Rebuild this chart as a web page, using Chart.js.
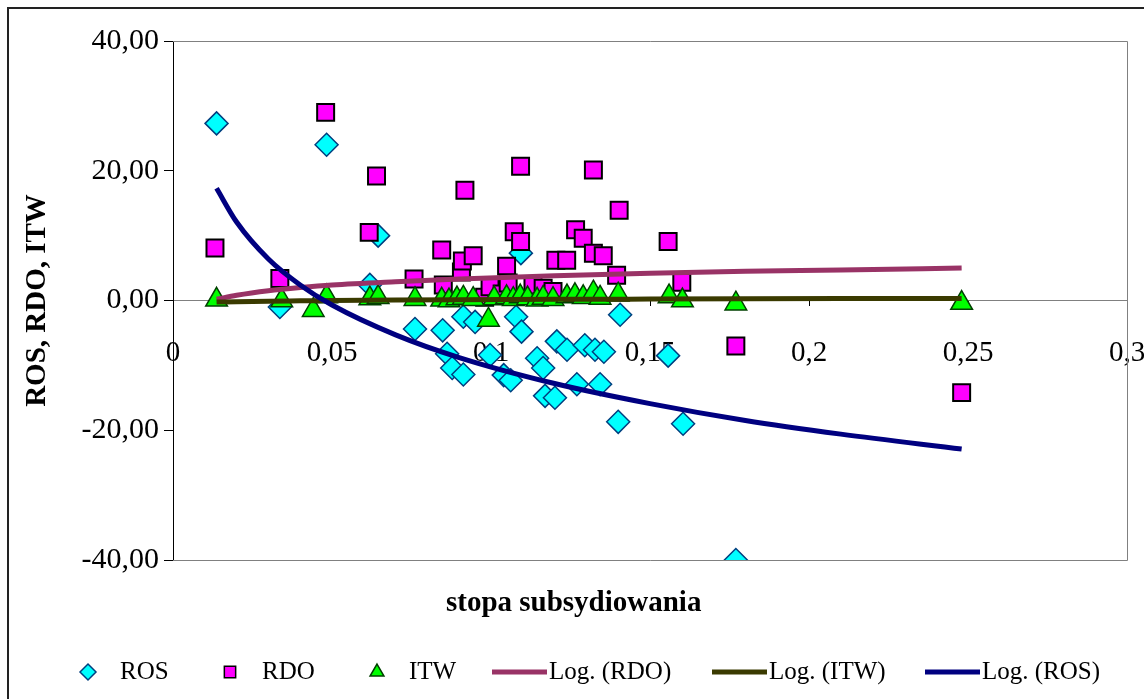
<!DOCTYPE html>
<html>
<head>
<meta charset="utf-8">
<script src="https://cdn.jsdelivr.net/npm/chart.js@4.4.0/dist/chart.umd.min.js"></script>
<style>
  html, body { margin: 0; padding: 0; background: #fff; }
  #wrap { width: 1144px; height: 699px; }
</style>
</head>
<body>
<div id="wrap"><canvas id="chart" width="1144" height="699"></canvas></div>
<script>
// tick values and labels
const xTicks = [0, 0.05, 0.1, 0.15, 0.2, 0.25, 0.3];
const xTickLabels = ['0', '0,05', '0,1', '0,15', '0,2', '0,25', '0,3'];
const yTicks = [-40, -20, 0, 20, 40];
const yTickLabels = ['-40,00', '-20,00', '0,00', '20,00', '40,00'];

// ROS points
const rosX = [0.0137, 0.0336, 0.0483, 0.0619, 0.0645, 0.0761, 0.0848, 0.0862, 0.0878, 0.0913,
              0.0913, 0.0950, 0.0997, 0.1040, 0.1062, 0.1079, 0.1094, 0.1096, 0.1145, 0.1164,
              0.1170, 0.1201, 0.1207, 0.1239, 0.1270, 0.1295, 0.1327, 0.1343, 0.1355, 0.1400,
              0.1406, 0.1557, 0.1604, 0.1770];
const rosY = [27.3, -1.0, 24.0, 2.4, 10.0, -4.4, -4.6, -8.2, -10.4, -11.4,
              -2.5, -3.3, -8.4, -11.5, -12.3, -2.5, 7.3, -4.8, -8.9, -10.4,
              -14.7, -15.0, -6.3, -7.6, -12.9, -6.9, -7.6, -12.9, -7.9, -18.7,
              -2.2, -8.5, -19.0, -40.0];

// RDO points
const rdoX = [0.0132, 0.0336, 0.0480, 0.0617, 0.0640, 0.0758, 0.0845, 0.0850, 0.0907, 0.0910,
              0.0918, 0.0944, 0.0980, 0.0997, 0.1035, 0.1049, 0.1054, 0.1073, 0.1093, 0.1093,
              0.1132, 0.1164, 0.1195, 0.1204, 0.1238, 0.1266, 0.1290, 0.1322, 0.1322, 0.1353,
              0.1395, 0.1403, 0.1557, 0.1600, 0.1770, 0.2480];
const rdoY = [8.1, 3.4, 29.0, 10.5, 19.2, 3.3, 7.8, 2.4, 4.4, 6.1,
              17.0, 6.9, 0.5, 2.1, 1.0, 5.3, 2.7, 10.6, 20.7, 9.1,
              2.4, 1.9, 1.4, 6.2, 6.2, 10.9, 9.6, 20.1, 7.3, 6.9,
              3.9, 13.9, 9.1, 2.8, -7.0, -14.2];

// ITW points
const itwX = [0.0137, 0.0342, 0.0441, 0.0483, 0.0619, 0.0645, 0.0761, 0.0845, 0.0868, 0.0893,
              0.0913, 0.0944, 0.0992, 0.1010, 0.1049, 0.1070, 0.1092, 0.1115, 0.1145, 0.1164,
              0.1195, 0.1239, 0.1264, 0.1290, 0.1322, 0.1343, 0.1400, 0.1560, 0.1602, 0.1770,
              0.2480];
const itwY = [0.1, 0.0, -1.5, 0.6, 0.3, 0.5, 0.2, 0.1, 0.0, 0.3,
              0.4, 0.2, -3.0, 0.3, 0.5, 0.2, 0.6, 0.3, 0.1, 0.4,
              0.2, 0.6, 0.8, 0.5, 1.2, 0.4, 0.9, 0.6, 0.0, -0.5,
              -0.4];

// log trendlines
const trendX = [0.0137, 0.02, 0.03, 0.04, 0.05, 0.07, 0.09, 0.12, 0.15, 0.18, 0.21, 0.248];
const logRos = [17.3, 12.1, 6.4, 2.4, -0.7, -5.3, -8.8, -12.8, -15.9, -18.5, -20.6, -22.9];
const logRdo = [0.2, 0.8, 1.5, 2.0, 2.4, 2.9, 3.3, 3.8, 4.2, 4.5, 4.7, 5.0];
const logItw = [-0.25, -0.18, -0.1, -0.05, 0.0, 0.07, 0.12, 0.18, 0.22, 0.26, 0.29, 0.32];

const pts = (xs, ys) => xs.map((x, i) => ({ x: x, y: ys[i] }));
const serif = 'Liberation Serif, Times New Roman, serif';

function markerSet(label, xs, ys, style, fill, stroke, radius, bw, order) {
    return {
        label: label,
        data: pts(xs, ys),
        pointStyle: style,
        pointRadius: radius,
        pointHoverRadius: radius,
        pointBackgroundColor: fill,
        pointBorderColor: stroke,
        pointBorderWidth: bw,
        backgroundColor: fill,
        borderColor: stroke,
        showLine: false,
        order: order
    };
}

function trendSet(label, ys, color, order) {
    return {
        label: label,
        data: pts(trendX, ys),
        showLine: true,
        borderColor: color,
        backgroundColor: color,
        borderWidth: 5,
        pointRadius: 0,
        cubicInterpolationMode: 'monotone',
        fill: false,
        order: order
    };
}

// frame of the whole picture and of the plot area
const framePlugin = {
    id: 'frame',
    beforeDraw(chart) {
        const c = chart.ctx;
        c.save();
        c.fillStyle = '#fff';
        c.fillRect(0, 0, chart.width, chart.height);
        c.strokeStyle = '#222';
        c.lineWidth = 2;
        c.strokeRect(8, 8, chart.width + 40, chart.height + 40);
        c.restore();
    },
    beforeDatasetsDraw(chart) {
        const a = chart.chartArea;
        const c = chart.ctx;
        c.save();
        c.strokeStyle = '#808080';
        c.lineWidth = 1;
        c.beginPath();
        c.moveTo(a.left, a.top + 0.5);
        c.lineTo(a.right + 0.5, a.top + 0.5);
        c.lineTo(a.right + 0.5, a.bottom + 0.5);
        c.lineTo(a.left, a.bottom + 0.5);
        c.stroke();
        c.restore();
    }
};

// x axis title and bottom legend
const legendStarts = [78, 220, 367, 492, 712, 925];
const bottomPlugin = {
    id: 'bottomLegend',
    afterDraw(chart) {
        const c = chart.ctx;
        const a = chart.chartArea;
        c.save();
        c.fillStyle = '#000';
        c.font = 'bold 29px ' + serif;
        c.textAlign = 'center';
        c.textBaseline = 'middle';
        c.fillText('stopa subsydiowania', a.left + (a.right - a.left) * 0.42, 604);

        c.font = '25px ' + serif;
        c.textAlign = 'left';
        const y = 672;
        chart.data.datasets.forEach((ds, i) => {
            let x = legendStarts[i];
            if (ds.showLine) {
                c.strokeStyle = ds.borderColor;
                c.lineWidth = 5;
                c.beginPath();
                c.moveTo(x, y);
                c.lineTo(x + 55, y);
                c.stroke();
                x += 57;
            } else {
                c.fillStyle = ds.pointBackgroundColor;
                c.strokeStyle = ds.pointBorderColor;
                c.lineWidth = 1.5;
                Chart.helpers.drawPoint(c, { pointStyle: ds.pointStyle, radius: 8, rotation: 0, borderWidth: 1.5 }, x + 10, y);
                x += 42;
            }
            c.fillStyle = '#000';
            c.fillText(ds.label, x, y);
        });
        c.restore();
    }
};

const ctx = document.getElementById('chart').getContext('2d');
const chart = new Chart(ctx, {
    type: 'scatter',
    data: {
        datasets: [
            markerSet('ROS', rosX, rosY, 'rectRot', '#00ffff', '#003f7f', 11.5, 1.5, 6),
            markerSet('RDO', rdoX, rdoY, 'rect', '#ff00ff', '#000000', 12, 2, 5),
            markerSet('ITW', itwX, itwY, 'triangle', '#00ff00', '#004000', 12.5, 1.5, 4),
            trendSet('Log. (RDO)', logRdo, '#993366', 3),
            trendSet('Log. (ITW)', logItw, '#3a3a00', 2),
            trendSet('Log. (ROS)', logRos, '#000080', 1)
        ]
    },
    options: {
        responsive: false,
        animation: false,
        layout: { padding: { left: 10, top: 41, right: 17, bottom: 139 } },
        plugins: {
            legend: { display: false },
            tooltip: { enabled: false }
        },
        scales: {
            x: {
                type: 'linear',
                min: 0,
                max: 0.3,
                position: { y: 0 },
                afterBuildTicks: s => { s.ticks = xTicks.map(v => ({ value: v })); },
                afterFit: s => { s.height = 0; s.paddingLeft = 0; s.paddingRight = 0; },
                ticks: {
                    callback: (v, i) => xTickLabels[i],
                    font: { family: serif, size: 29 },
                    color: '#000',
                    padding: 30,
                    maxRotation: 0,
                    autoSkip: false
                },
                grid: { drawOnChartArea: false, drawTicks: true, tickLength: 5, color: '#000' },
                border: { color: '#808080', width: 1 }
            },
            y: {
                type: 'linear',
                min: -40,
                max: 40,
                position: 'left',
                afterBuildTicks: s => { s.ticks = yTicks.map(v => ({ value: v })); },
                afterFit: s => { s.width = 163; },
                ticks: {
                    callback: (v, i) => yTickLabels[i],
                    font: { family: serif, size: 30 },
                    color: '#000',
                    padding: 5
                },
                grid: { drawOnChartArea: false, drawTicks: true, tickLength: 9, color: '#000' },
                border: { color: '#000', width: 1 },
                title: {
                    display: true,
                    text: 'ROS, RDO, ITW',
                    font: { family: serif, size: 29, weight: 'bold' },
                    color: '#000',
                    padding: { top: 10, bottom: 0 }
                }
            }
        }
    },
    plugins: [framePlugin, bottomPlugin]
});
</script>
</body>
</html>
